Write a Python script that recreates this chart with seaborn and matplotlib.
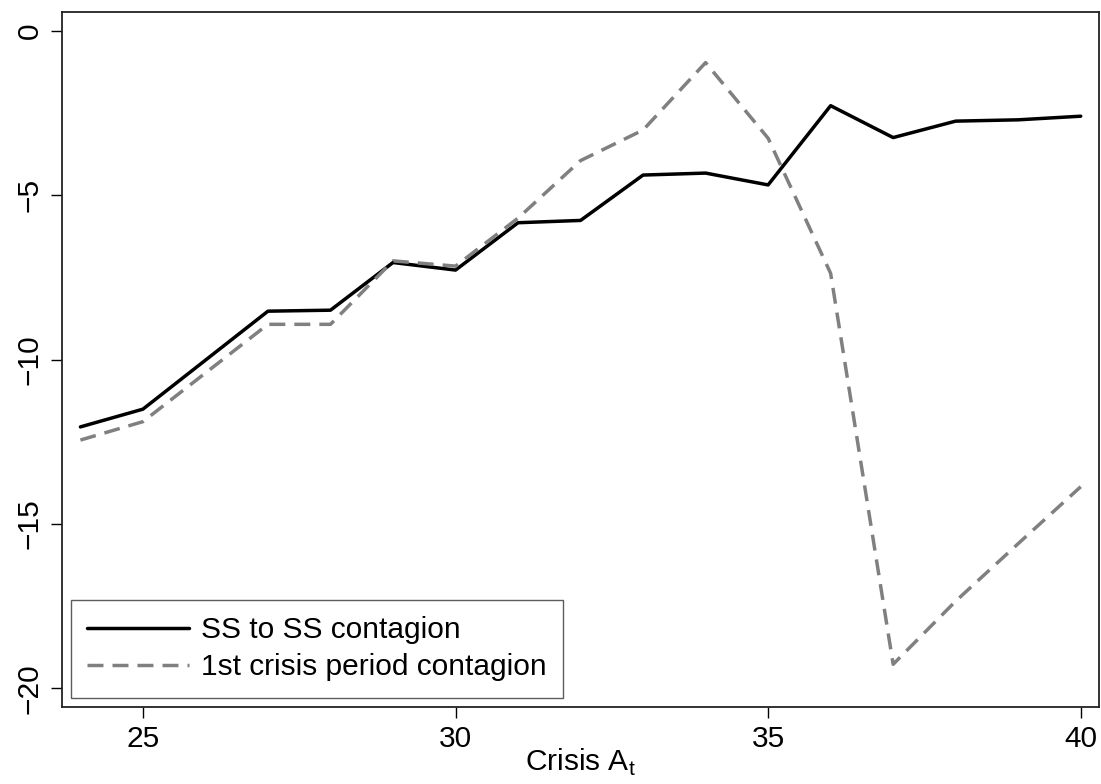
import numpy as np
import pandas as pd
import matplotlib
matplotlib.use("Agg")
import matplotlib.pyplot as plt
import seaborn as sns

crisis = list(range(24, 41))
ss_to_ss = [-12.05, -11.51, -10.02, -8.53, -8.50, -7.05, -7.28, -5.84, -5.77,
            -4.39, -4.33, -4.69, -2.28, -3.25, -2.75, -2.71, -2.60]
first_crisis = [-12.45, -11.89, -10.41, -8.93, -8.93, -7.00, -7.16, -5.70, -3.95,
                -3.02, -0.97, -3.27, -7.38, -19.27, -17.35, -15.60, -13.87]
series_names = ["SS to SS contagion", "1st crisis period contagion"]
xticks = [25, 30, 35, 40]
yticks = [0, -5, -10, -15, -20]

df = pd.DataFrame({
    "x": crisis * 2,
    "y": ss_to_ss + first_crisis,
    "series": [series_names[0]] * len(crisis) + [series_names[1]] * len(crisis),
})

sns.set_theme(style="white")
plt.rcParams["font.family"] = ["Liberation Sans", "DejaVu Sans"]
plt.rcParams["text.color"] = "black"
plt.rcParams["xtick.color"] = "black"
plt.rcParams["ytick.color"] = "black"
plt.rcParams["axes.labelcolor"] = "black"

FS = 21.5

fig = plt.figure(figsize=(11.01, 7.84), dpi=100)
ax = fig.add_axes([0.056, 0.0986, 0.9426, 0.8857])

sns.lineplot(data=df, x="x", y="y", hue="series", style="series",
             palette={series_names[0]: "black", series_names[1]: "#808080"},
             dashes={series_names[0]: "", series_names[1]: (4.6, 2.6)},
             linewidth=2.5, ax=ax, legend=True)

ax.set_xlim(23.7, 40.3)
ax.set_ylim(-20.56, 0.56)
ax.set_xticks(xticks)
ax.set_xticklabels([str(t) for t in xticks])
ax.set_yticks(yticks)
ax.set_yticklabels(["\u2212" + str(-t) if t < 0 else str(t) for t in yticks],
                   rotation=90, va="center")
ax.tick_params(axis="both", direction="out", length=8, width=1.0, color="black",
               labelsize=FS, pad=5, left=True, bottom=True)
ax.set_xlabel("Crisis A$_\\mathregular{t}$", fontsize=FS, labelpad=-4)
ax.set_ylabel("")
for sp in ax.spines.values():
    sp.set_visible(True)
    sp.set_color("#222222")
    sp.set_linewidth(1.3)

leg = ax.legend(loc="lower left", fontsize=FS, frameon=True, fancybox=False,
                borderaxespad=0.3, handlelength=3.4, handletextpad=0.4,
                borderpad=0.55, labelspacing=0.3)
leg.get_frame().set_edgecolor("#333333")
leg.get_frame().set_linewidth(1.0)
for t in leg.get_texts():
    t.set_color("black")

fig.savefig("out.png", dpi=100)
